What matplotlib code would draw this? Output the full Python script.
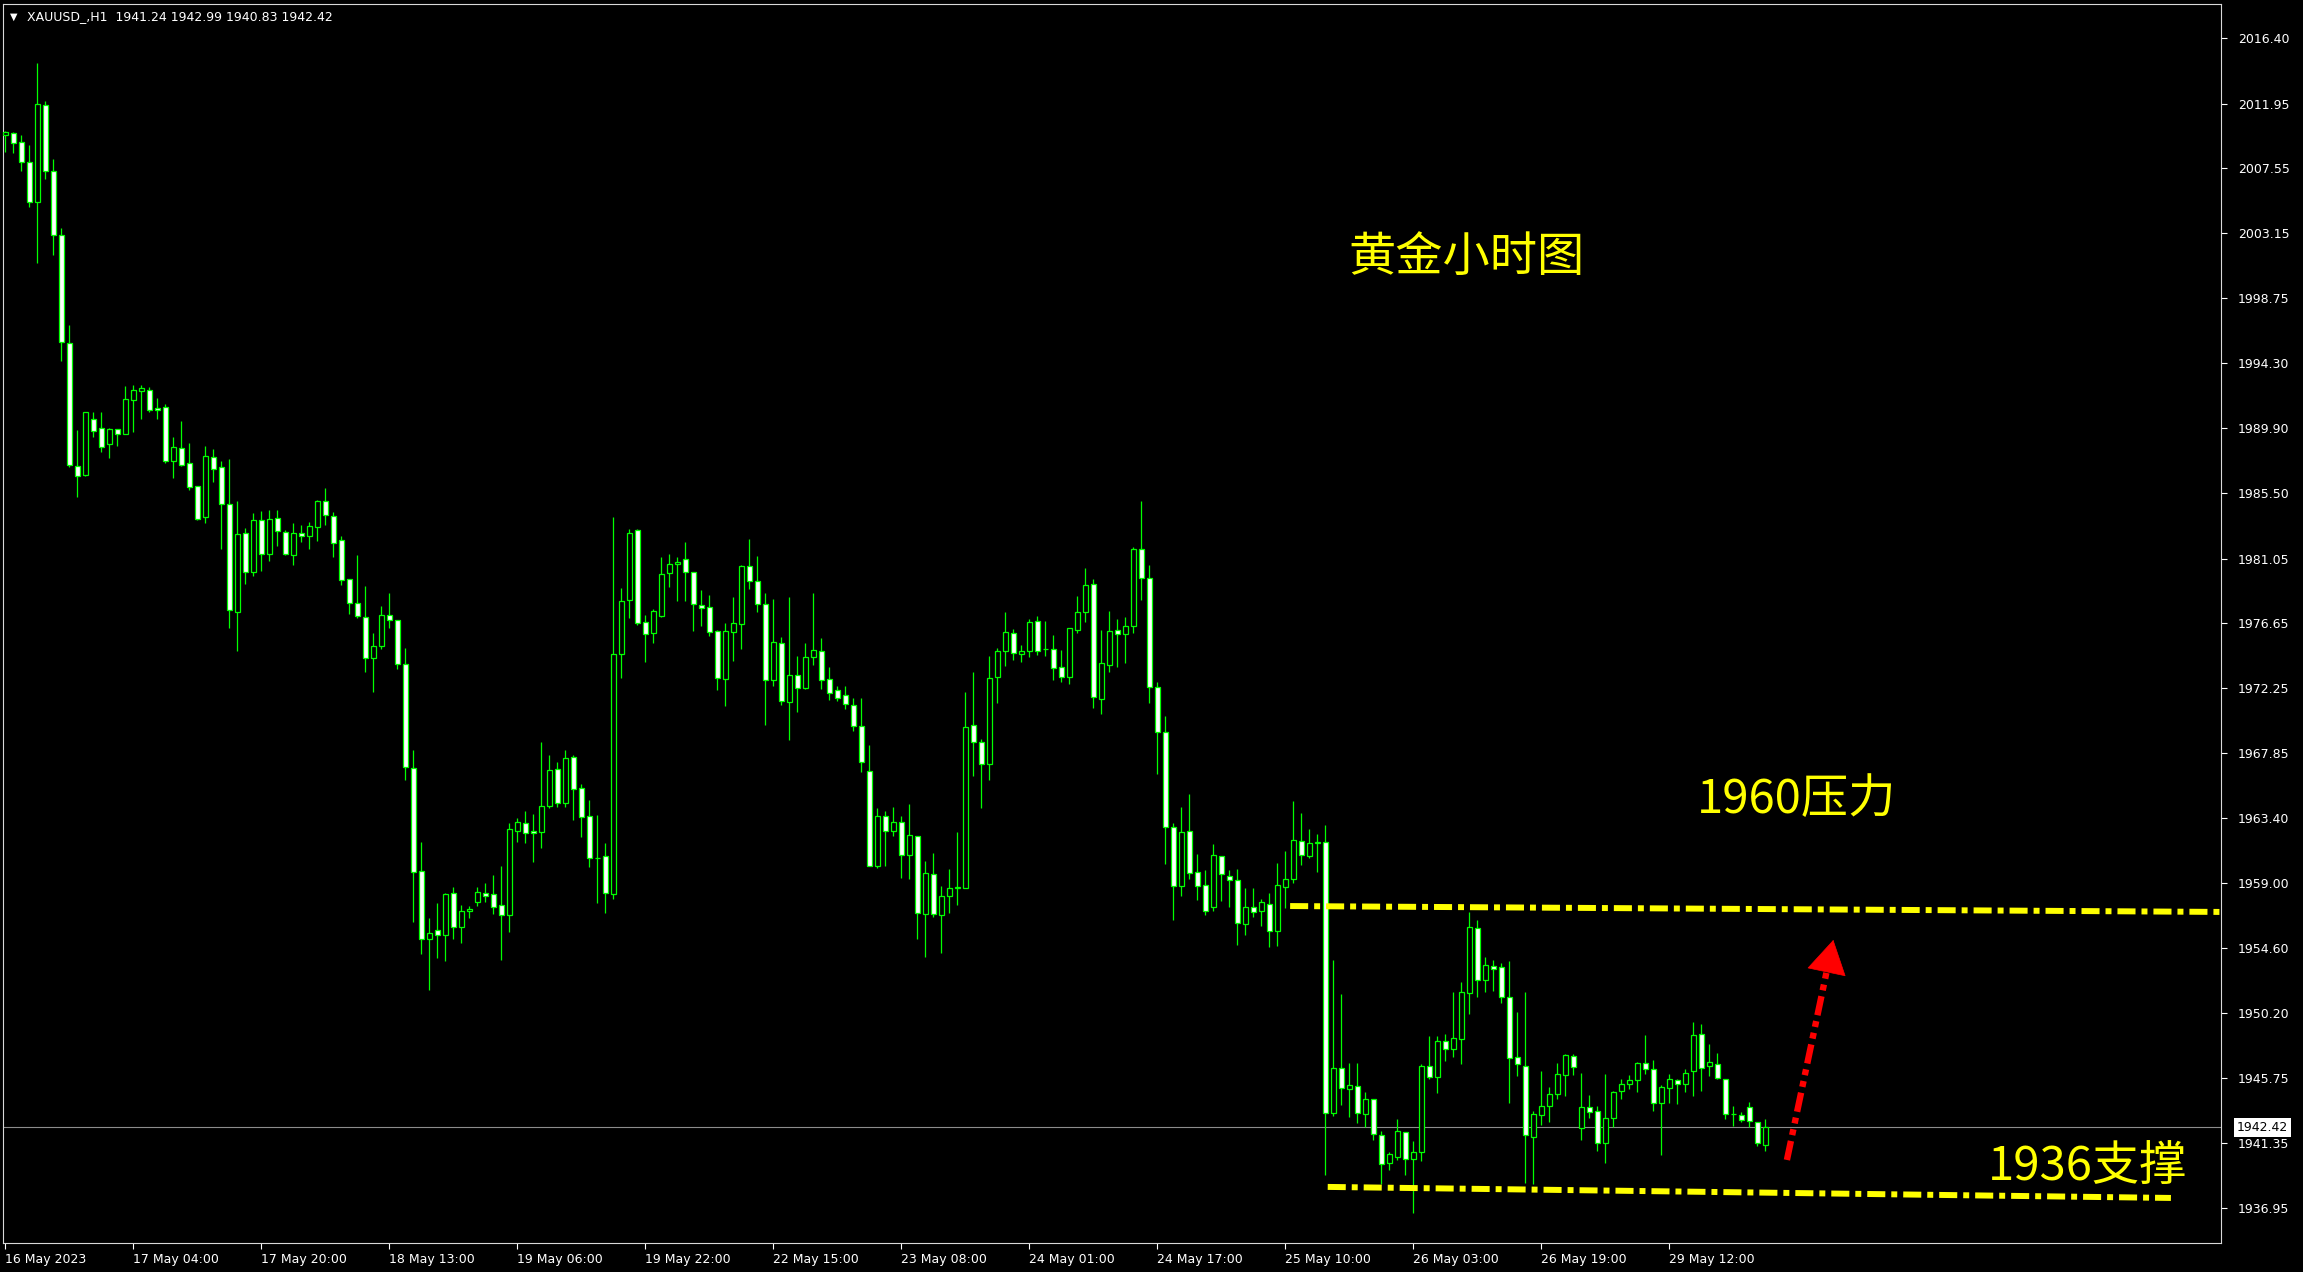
# -*- coding: utf-8 -*-
"""XAUUSD H1 蜡烛图 (MT4 风格) — 黄金小时图, 1960压力 / 1936支撑"""
import numpy as np
import matplotlib; matplotlib.use('Agg')
import matplotlib.pyplot as plt

plt.rcParams['lines.scale_dashes'] = False
plt.rcParams['font.family'] = ['DejaVu Sans']
CJK = ['Noto Sans CJK SC', 'DejaVu Sans']
GREEN = '#00ff00'; YELLOW = '#ffff00'; RED = '#ff0000'; FRAME = '#d8d8d8'
W, H = 2303, 1272

# ---- data ----
opens = [2009.83, 2009.93, 2009.32, 2008.02, 2005.28, 2011.83, 2007.40, 2003.06, 1995.72, 1987.32,
         1986.75, 1990.56, 1989.95, 1988.85, 1989.82, 1989.49, 1991.79, 1992.40, 1992.53, 1991.25,
         1991.33, 1987.70, 1988.54, 1987.52, 1985.96, 1983.86, 1987.93, 1987.25, 1984.72, 1977.40,
         1982.76, 1980.16, 1983.64, 1981.33, 1983.78, 1982.83, 1981.31, 1982.76, 1982.55, 1983.22,
         1984.93, 1983.97, 1982.29, 1979.69, 1978.01, 1977.05, 1974.31, 1975.13, 1977.19, 1976.84,
         1973.91, 1966.80, 1959.81, 1955.18, 1955.78, 1955.45, 1958.30, 1956.04, 1957.08, 1957.73,
         1958.30, 1958.23, 1957.49, 1956.85, 1962.56, 1963.06, 1962.51, 1962.49, 1964.26, 1966.72,
         1964.46, 1967.54, 1965.43, 1963.55, 1960.70, 1960.84, 1958.28, 1974.58, 1978.25, 1982.96,
         1976.71, 1975.96, 1977.16, 1980.04, 1980.65, 1980.99, 1980.11, 1977.87, 1977.73, 1976.10,
         1972.84, 1976.03, 1976.57, 1980.51, 1979.50, 1977.93, 1972.77, 1975.28, 1971.32, 1973.11,
         1972.27, 1974.33, 1974.74, 1972.84, 1972.09, 1971.75, 1971.07, 1969.65, 1966.59, 1960.13,
         1963.55, 1962.51, 1963.13, 1960.88, 1962.17, 1956.88, 1959.59, 1956.81, 1958.10, 1958.70,
         1958.64, 1969.71, 1968.56, 1967.07, 1973.02, 1974.74, 1975.96, 1974.54, 1974.79, 1976.78,
         1974.88, 1974.88, 1973.65, 1973.02, 1976.21, 1977.44, 1979.29, 1971.53, 1973.84, 1976.17,
         1975.90, 1976.49, 1981.67, 1979.70, 1972.35, 1969.24, 1962.79, 1958.83, 1962.52, 1959.73,
         1958.85, 1957.40, 1960.82, 1959.51, 1959.19, 1956.20, 1957.40, 1957.09, 1957.56, 1955.73,
         1958.72, 1959.26, 1961.84, 1960.82, 1961.73, 1961.77, 1943.40, 1946.41, 1945.03, 1945.19,
         1943.33, 1944.31, 1941.86, 1940.01, 1940.41, 1942.07, 1940.28, 1940.71, 1946.55, 1945.80,
         1948.25, 1947.70, 1948.38, 1951.51, 1955.92, 1952.39, 1953.34, 1953.27, 1951.24, 1947.16,
         1946.55, 1941.77, 1943.22, 1943.88, 1944.65, 1945.94, 1947.23, 1942.34, 1943.77, 1943.50,
         1941.32, 1943.02, 1944.86, 1945.33, 1945.60, 1946.76, 1946.35, 1944.04, 1945.06, 1945.60,
         1945.33, 1946.22, 1948.73, 1946.56, 1946.69, 1945.67, 1943.29, 1943.23, 1943.77, 1942.75,
         1941.24]
highs = [2010.06, 2010.01, 2009.81, 2009.12, 2014.69, 2012.16, 2008.17, 2003.47, 1996.90, 1989.77,
         1990.97, 1990.97, 1990.97, 1989.95, 1989.82, 1992.76, 1992.81, 1992.81, 1992.71, 1991.94,
         1991.58, 1989.31, 1990.38, 1988.93, 1985.96, 1988.70, 1988.49, 1987.68, 1987.81, 1984.95,
         1983.13, 1984.14, 1984.25, 1984.35, 1984.35, 1982.97, 1983.46, 1983.32, 1983.53, 1985.03,
         1985.84, 1984.21, 1982.57, 1979.69, 1981.28, 1979.18, 1975.99, 1977.82, 1978.71, 1976.84,
         1974.97, 1968.04, 1961.80, 1956.63, 1957.63, 1958.30, 1958.71, 1957.49, 1957.42, 1958.71,
         1958.98, 1959.55, 1960.16, 1963.10, 1963.44, 1963.87, 1963.69, 1968.58, 1967.70, 1967.22,
         1968.04, 1967.70, 1965.73, 1964.64, 1963.62, 1961.70, 1983.87, 1979.04, 1983.05, 1983.03,
         1977.19, 1977.59, 1981.13, 1981.33, 1981.13, 1982.14, 1980.11, 1978.91, 1978.57, 1976.19,
         1976.64, 1978.43, 1980.60, 1982.37, 1981.22, 1978.68, 1978.30, 1975.71, 1978.43, 1974.42,
         1975.28, 1978.70, 1975.65, 1973.68, 1972.39, 1972.39, 1971.57, 1971.57, 1968.38, 1964.10,
         1963.87, 1964.17, 1963.56, 1964.37, 1962.17, 1960.50, 1961.04, 1958.80, 1959.96, 1962.47,
         1972.00, 1973.34, 1968.76, 1974.40, 1974.95, 1977.41, 1976.24, 1975.17, 1976.92, 1977.14,
         1976.80, 1975.85, 1974.83, 1976.30, 1978.50, 1980.40, 1979.66, 1976.19, 1977.48, 1976.94,
         1977.07, 1981.83, 1984.95, 1980.61, 1972.64, 1970.35, 1963.06, 1964.17, 1965.06, 1960.98,
         1959.89, 1961.66, 1960.82, 1959.89, 1959.96, 1958.67, 1958.67, 1957.92, 1958.31, 1960.37,
         1961.19, 1964.58, 1963.77, 1962.68, 1962.36, 1962.94, 1953.77, 1951.46, 1946.78, 1946.78,
         1944.81, 1944.31, 1942.16, 1940.73, 1942.95, 1942.07, 1941.48, 1946.71, 1948.61, 1948.61,
         1948.75, 1951.60, 1952.28, 1957.03, 1956.49, 1953.98, 1953.77, 1953.57, 1953.70, 1950.24,
         1951.60, 1943.52, 1946.23, 1945.15, 1946.78, 1947.39, 1947.39, 1946.10, 1944.61, 1943.86,
         1946.03, 1944.88, 1945.70, 1945.97, 1946.83, 1948.68, 1946.99, 1945.29, 1946.03, 1945.70,
         1946.37, 1949.57, 1949.43, 1948.07, 1947.46, 1945.67, 1943.86, 1943.45, 1944.13, 1942.75,
         1942.99]
lows = [2008.66, 2008.60, 2007.38, 2004.95, 2001.14, 2006.82, 2001.65, 1994.50, 1987.27, 1985.22,
        1986.68, 1989.31, 1988.29, 1987.90, 1988.67, 1989.49, 1989.67, 1990.56, 1990.97, 1990.56,
        1987.57, 1986.55, 1987.34, 1985.73, 1983.69, 1983.48, 1986.27, 1981.73, 1976.35, 1974.78,
        1979.34, 1979.88, 1980.23, 1980.91, 1981.91, 1981.31, 1980.63, 1982.19, 1981.70, 1982.24,
        1983.32, 1981.14, 1979.27, 1977.28, 1977.00, 1973.33, 1971.97, 1974.90, 1976.35, 1973.54,
        1966.01, 1956.37, 1954.19, 1951.74, 1953.94, 1953.71, 1955.22, 1954.95, 1956.65, 1957.46,
        1957.73, 1956.90, 1953.77, 1955.68, 1961.79, 1961.70, 1960.45, 1961.40, 1964.12, 1964.19,
        1964.19, 1963.28, 1962.15, 1960.11, 1957.67, 1956.99, 1957.94, 1972.95, 1977.03, 1976.55,
        1974.04, 1975.33, 1977.10, 1979.13, 1978.18, 1978.18, 1976.14, 1976.46, 1975.78, 1972.11,
        1971.03, 1974.08, 1974.90, 1979.00, 1977.43, 1969.74, 1972.41, 1971.12, 1968.72, 1970.64,
        1972.20, 1973.81, 1972.20, 1971.43, 1971.37, 1970.85, 1969.35, 1966.57, 1960.13, 1960.04,
        1960.18, 1962.22, 1959.37, 1959.30, 1955.22, 1954.00, 1956.72, 1954.27, 1956.99, 1957.53,
        1958.64, 1966.30, 1964.12, 1966.02, 1971.25, 1973.77, 1974.18, 1974.04, 1974.38, 1974.51,
        1974.45, 1972.79, 1972.68, 1972.55, 1975.99, 1976.76, 1970.91, 1970.51, 1973.36, 1973.70,
        1973.97, 1976.01, 1978.25, 1971.25, 1966.41, 1960.30, 1956.50, 1958.13, 1959.28, 1957.85,
        1956.84, 1957.11, 1957.79, 1957.40, 1954.80, 1955.48, 1956.72, 1956.11, 1954.69, 1954.75,
        1957.33, 1959.03, 1960.23, 1960.69, 1959.78, 1939.17, 1943.17, 1943.92, 1943.13, 1942.72,
        1942.45, 1941.54, 1938.56, 1939.51, 1940.19, 1939.17, 1936.61, 1940.14, 1945.69, 1944.72,
        1946.93, 1947.21, 1946.73, 1950.13, 1951.24, 1951.58, 1951.69, 1950.83, 1944.08, 1945.92,
        1938.65, 1938.56, 1942.56, 1942.79, 1944.31, 1944.56, 1945.97, 1941.57, 1943.07, 1940.83,
        1940.01, 1942.46, 1944.34, 1945.02, 1944.83, 1946.06, 1943.54, 1940.55, 1944.09, 1944.02,
        1944.83, 1944.56, 1944.90, 1945.88, 1945.67, 1942.95, 1942.52, 1942.80, 1942.46, 1941.17,
        1940.83]
closes = [2010.01, 2009.30, 2008.02, 2005.28, 2011.90, 2007.40, 2003.06, 1995.78, 1987.37, 1986.63,
          1990.97, 1989.74, 1988.60, 1989.82, 1989.49, 1991.87, 1992.48, 1992.61, 1991.13, 1991.13,
          1987.70, 1988.60, 1987.39, 1985.94, 1983.76, 1988.02, 1987.16, 1984.72, 1977.52, 1982.69,
          1980.16, 1983.64, 1981.33, 1983.71, 1982.94, 1981.38, 1982.76, 1982.55, 1983.29, 1984.93,
          1984.02, 1982.08, 1979.62, 1978.01, 1977.17, 1974.31, 1975.08, 1977.19, 1976.84, 1973.91,
          1966.87, 1959.74, 1955.18, 1955.64, 1955.46, 1958.23, 1956.04, 1957.08, 1957.26, 1958.37,
          1958.14, 1957.40, 1956.85, 1962.65, 1963.12, 1962.38, 1962.38, 1964.23, 1966.66, 1964.46,
          1967.47, 1965.41, 1963.51, 1960.72, 1960.68, 1958.35, 1974.54, 1978.16, 1982.78, 1976.69,
          1975.89, 1977.46, 1979.97, 1980.65, 1980.79, 1980.11, 1977.93, 1977.66, 1976.08, 1972.91,
          1976.10, 1976.64, 1980.51, 1979.50, 1977.93, 1972.77, 1975.35, 1971.39, 1973.11, 1972.23,
          1974.33, 1974.81, 1972.77, 1971.89, 1971.55, 1971.14, 1969.65, 1967.20, 1960.13, 1963.55,
          1962.56, 1963.13, 1960.88, 1962.24, 1956.94, 1959.66, 1956.88, 1958.10, 1958.64, 1958.75,
          1969.58, 1968.56, 1967.11, 1972.91, 1974.74, 1976.03, 1974.61, 1974.74, 1976.71, 1974.79,
          1974.90, 1973.63, 1973.02, 1976.30, 1977.39, 1979.22, 1971.66, 1973.93, 1976.10, 1975.90,
          1976.44, 1981.67, 1979.70, 1972.34, 1969.24, 1962.84, 1958.83, 1962.45, 1959.67, 1958.83,
          1957.09, 1960.89, 1959.60, 1959.19, 1956.27, 1957.36, 1957.04, 1957.70, 1955.73, 1958.85,
          1959.26, 1961.91, 1960.89, 1961.70, 1961.77, 1943.36, 1946.41, 1945.10, 1945.26, 1943.40,
          1944.31, 1941.93, 1939.94, 1940.57, 1942.13, 1940.28, 1940.71, 1946.55, 1945.80, 1948.25,
          1947.70, 1948.45, 1951.58, 1955.99, 1952.39, 1953.41, 1953.18, 1951.26, 1947.12, 1946.73,
          1941.86, 1943.29, 1943.83, 1944.65, 1946.01, 1947.30, 1946.49, 1943.77, 1943.43, 1941.37,
          1943.02, 1944.79, 1945.33, 1945.60, 1946.76, 1946.35, 1944.04, 1945.13, 1945.67, 1945.33,
          1946.08, 1948.66, 1946.42, 1946.83, 1945.74, 1943.29, 1943.29, 1942.89, 1942.82, 1941.32,
          1942.42]

xtick_bars = [0, 16, 32, 48, 64, 80, 96, 112, 128, 144, 160, 176, 192, 208]
xtick_labels = ['16 May 2023', '17 May 04:00', '17 May 20:00', '18 May 13:00', '19 May 06:00',
                '19 May 22:00', '22 May 15:00', '23 May 08:00', '24 May 01:00', '24 May 17:00',
                '25 May 10:00', '26 May 03:00', '26 May 19:00', '29 May 12:00']
ytick_vals = [2016.40, 2011.95, 2007.55, 2003.15, 1998.75, 1994.30, 1989.90, 1985.50, 1981.05,
              1976.65, 1972.25, 1967.85, 1963.40, 1959.00, 1954.60, 1950.20, 1945.75, 1941.35, 1936.95]
last_price = 1942.42
header = 'XAUUSD_,H1  1941.24 1942.99 1940.83 1942.42'

# hand-drawn objects (bar index, price)
resist_x = [160.6, 277.0];  resist_y = [1957.44, 1957.04]
support_x = [165.3, 270.7]; support_y = [1938.36, 1937.61]
arrow_x = [222.7, 228.5];   arrow_y = [1940.19, 1955.14]

# ---- figure ----
fig = plt.figure(figsize=(W/100, H/100), dpi=100, facecolor='black')
ax = fig.add_axes([3/W, 1-1243/H, 2218/W, 1239/H], facecolor='black')
ax.set_xlim(-0.29, 276.96); ax.set_ylim(1934.55, 2018.72)

o, h, l, c = (np.asarray(v) for v in (opens, highs, lows, closes))
x = np.arange(len(o))
up = c >= o
ax.axhline(last_price, color='#8c8c8c', lw=0.8, zorder=1)
ax.vlines(x, l, h, color=GREEN, lw=0.9, zorder=2)
ax.bar(x, c-o, bottom=o, width=0.62, color=np.where(up, 'black', 'white'),
       edgecolor=GREEN, linewidth=0.9, zorder=3)

# support / resistance
for xs, ys in ((resist_x, resist_y), (support_x, support_y)):
    ax.plot(xs, ys, color=YELLOW, lw=4.3, dashes=(13, 4.3, 4.3, 4.3),
            dash_capstyle='butt', solid_capstyle='butt', zorder=5)
# red dashed arrow: shaft + solid head
ax_, ay_ = np.asarray(arrow_x), np.asarray(arrow_y)
base = (ax_[0] + 0.86*(ax_[1]-ax_[0]), ay_[0] + 0.86*(ay_[1]-ay_[0]))
ax.plot([ax_[0], base[0]], [ay_[0], base[1]], color=RED, lw=4.6,
        dashes=(14, 4.3, 4.3, 4.3, 4.3, 4.3), dash_capstyle='butt', zorder=6)
ax.annotate('', xy=(ax_[1], ay_[1]), xytext=base,
            arrowprops=dict(arrowstyle='-|>,head_length=1.15,head_width=0.68', color=RED,
                            lw=0.5, shrinkA=0, shrinkB=0, mutation_scale=20), zorder=6)

# axes chrome
for s in ax.spines.values(): s.set_color(FRAME); s.set_linewidth(0.8)
ax.yaxis.tick_right()
ax.set_yticks(ytick_vals); ax.set_yticklabels([f'{v:.2f}' for v in ytick_vals])
ax.set_xticks(xtick_bars); ax.set_xticklabels(xtick_labels, ha='left')
ax.tick_params(axis='y', colors='white', length=4, width=0.8, pad=8, labelsize=9)
ax.tick_params(axis='x', colors='white', length=4, width=0.8, pad=3, labelsize=9)
ax.annotate(f'{last_price:.2f}', xy=(1, last_price), xycoords=('axes fraction', 'data'),
            xytext=(16, 0), textcoords='offset pixels', ha='left', va='center', fontsize=9,
            color='black', bbox=dict(boxstyle='square,pad=0.25', fc='white', ec='none'),
            annotation_clip=False)

fig.text(10/W, 1-17/H, '▼', color='white', fontsize=7, va='center')
fig.text(27/W, 1-17/H, header, color='white', fontsize=9, va='center')

# chinese labels (thin weight like the original)
kw = dict(color=YELLOW, fontsize=34, family=CJK, fontweight='light', va='center')
fig.text(1348/W, 1-258/H, '黄金小时图', **kw)
fig.text(1697/W, 1-800/H, '1960压力', **kw)
fig.text(1988/W, 1-1168/H, '1936支撑', **kw)

fig.savefig('out.png', dpi=100, facecolor='black')
